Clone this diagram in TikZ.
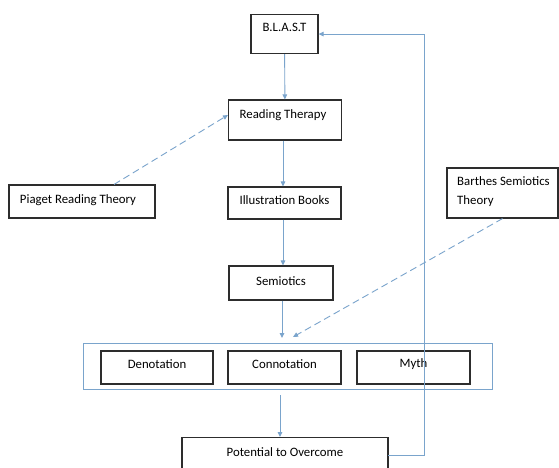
\documentclass[tikz,border=0pt]{standalone}
\usepackage{fontspec}
\setmainfont{Carlito}
\usetikzlibrary{calc}
\usetikzlibrary{arrows.meta}
\definecolor{flowblue}{RGB}{122,164,204}
\definecolor{boxgray}{RGB}{45,45,45}

\begin{document}
\begin{tikzpicture}[x=1pt,y=-1pt,
  font=\fontsize{12.8}{15}\selectfont,
  box/.style={draw=boxgray,line width=1.1pt,fill=white,inner sep=0pt},
  flow/.style={draw=flowblue,line width=0.9pt,-{Triangle[length=5pt,width=4.5pt]}},
  influence/.style={flow,dashed,dash pattern=on 7pt off 4pt}]
\clip (0,0) rectangle (559,467);
\fill[white] (0,0) rectangle (559,467);

\node[box,minimum width=67pt,minimum height=39pt,anchor=north] (blast) at (284.5,14) {};
\node at (284.5,27) {B.L.A.S.T};
\node[box,minimum width=113pt,minimum height=40pt] (rt) at (285,120) {};
\node at (283,115) {Reading Therapy};
\node[box,minimum width=146pt,minimum height=33pt] (piaget) at (82,201.5) {};
\node at (78,200) {Piaget Reading Theory};
\node[box,minimum width=113pt,minimum height=32pt] (ill) at (284.5,203) {};
\node at (284.5,200) {Illustration Books};
\node[box,minimum width=104pt,minimum height=34pt] (sem) at (281,283) {};
\node at (281,281) {Semiotics};
\node[box,minimum width=111pt,minimum height=50pt] (barthes) at (502.5,193) {};
\node[anchor=north west,align=left,inner sep=0pt] at (457,176) {Barthes Semiotics\\[4pt]Theory};

% the three sign levels
\node[draw=flowblue,line width=0.9pt,minimum width=409pt,minimum height=46pt] (level) at (287.5,366) {};
\node[box,minimum width=112pt,minimum height=33pt] (den) at (157,367.5) {};
\node at (157,364) {Denotation};
\node[box,minimum width=113pt,minimum height=33pt] (con) at (284.5,367.5) {};
\node at (284.5,364) {Connotation};
\node[box,minimum width=113pt,minimum height=33pt] (myth) at (413.5,367.5) {};
\node at (413.5,364) {Myth};

\node[box,minimum width=206pt,minimum height=40pt,anchor=north] (pot) at (285,437) {};
\node at (285,452) {Potential to Overcome};

\coordinate (semend) at (282,338);
\coordinate (barend) at (293,337);
\coordinate (potin) at (388,455);

\draw[flow] (blast) -- (rt);
\draw[flow] (rt.south -| 283,0) -- (ill.north -| 283,0);
\draw[flow] (ill.south -| 283,0) -- (sem.north -| 283,0);
\draw[flow] (sem.south -| semend) -- (semend);
\draw[flow,shorten <=6pt] (level.south -| 280,0) -- (pot.north -| 280,0);
\draw[flow] (potin) -- ++(36,0) |- (blast.east);
\draw[influence] ([xshift=32pt]piaget.north) -- ([yshift=5pt]rt.west);
\draw[influence] (barthes.south) -- (barend);
\end{tikzpicture}
\end{document}
